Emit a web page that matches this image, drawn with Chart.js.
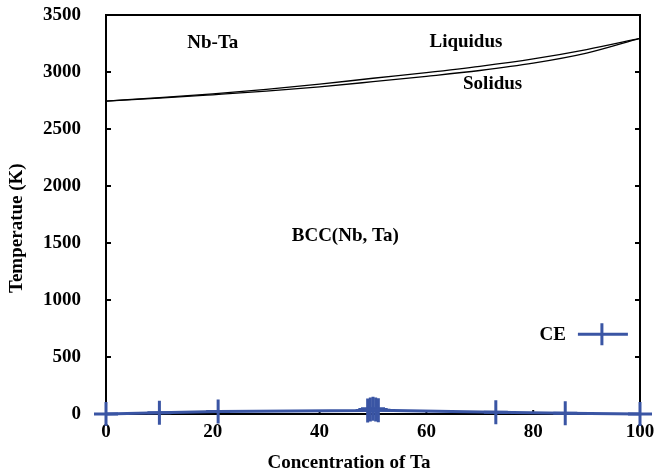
<!DOCTYPE html>
<html lang="en">
<head>
  <meta charset="UTF-8" />
  <title>Nb-Ta phase diagram</title>
  <script src="https://cdn.jsdelivr.net/npm/chart.js"></script>
  <style>
    html, body { margin: 0; padding: 0; background: #fff; }
    #wrap { width: 655px; height: 474px; }
  </style>
</head>
<body>
  <div id="wrap"><canvas id="phaseChart"></canvas></div>

  <script>
    // Composition grid for the liquidus / solidus curves (at.% Ta)
    const compTa = [0, 10, 20, 30, 40, 50, 60, 70, 80, 90, 100];
    const liquidusT = [2745, 2775, 2808, 2847, 2893, 2945, 2995, 3050, 3115, 3197, 3295];
    const solidusT = [2745, 2770, 2800, 2832, 2870, 2915, 2962, 3013, 3077, 3165, 3295];

    // Cluster expansion (CE) points
    const ceTa = [0, 10, 21, 49, 49.5, 50, 50.5, 51, 73, 86, 100];
    const ceT = [0, 10, 22, 30, 40, 45, 40, 32, 15, 6, 0];

    const yTicks = [0, 500, 1000, 1500, 2000, 2500, 3000, 3500];
    const xTicks = [0, 20, 40, 60, 80, 100];

    const serif = "'Liberation Serif', 'Times New Roman', serif";
    const ceBlue = "#3a55a4";

    const toPoints = (xs, ys) => xs.map((x, i) => ({ x: x, y: ys[i] }));

    // keep Chart.js from adding room for overhanging tick labels
    function noOverhang(axis) {
      axis.paddingTop = 0;
      axis.paddingBottom = 0;
      axis.paddingLeft = 0;
      axis.paddingRight = 0;
    }

    // Frame, inward ticks, labels, axis titles and the small legend
    const decorPlugin = {
      id: "decor",
      beforeDatasetsDraw(chart) {
        const { ctx, chartArea: a, scales } = chart;
        ctx.save();
        ctx.strokeStyle = "#000";
        ctx.lineWidth = 2;
        ctx.strokeRect(a.left, a.top, a.right - a.left, a.bottom - a.top);
        yTicks.forEach((v) => {
          const py = scales.y.getPixelForValue(v);
          ctx.beginPath();
          ctx.moveTo(a.left, py); ctx.lineTo(a.left + 5, py);
          ctx.moveTo(a.right, py); ctx.lineTo(a.right - 5, py);
          ctx.stroke();
        });
        xTicks.forEach((v) => {
          const px = scales.x.getPixelForValue(v);
          ctx.beginPath();
          ctx.moveTo(px, a.bottom); ctx.lineTo(px, a.bottom - 4);
          ctx.stroke();
        });
        ctx.restore();
      },
      afterDraw(chart) {
        const { ctx, scales } = chart;
        const at = (x, y) => [scales.x.getPixelForValue(x), scales.y.getPixelForValue(y)];
        ctx.save();
        ctx.fillStyle = "#000";
        ctx.font = "bold 19px " + serif;
        ctx.textAlign = "center";
        ctx.textBaseline = "middle";
        let p = at(20, 3255); ctx.fillText("Nb-Ta", p[0], p[1]);
        p = at(67.4, 3264); ctx.fillText("Liquidus", p[0], p[1]);
        p = at(72.4, 2896); ctx.fillText("Solidus", p[0], p[1]);
        p = at(44.8, 1557); ctx.fillText("BCC(Nb, Ta)", p[0], p[1]);

        // axis titles
        p = at(45.5, 0);
        ctx.fillText("Concentration of Ta", p[0], 463);
        ctx.save();
        ctx.translate(17, scales.y.getPixelForValue(1630));
        ctx.rotate(-Math.PI / 2);
        ctx.fillText("Temperatue (K)", 0, 0);
        ctx.restore();

        // legend entry for CE
        p = at(86.5, 700);
        ctx.textAlign = "right";
        ctx.fillText("CE", p[0] - 2, p[1] + 1);
        ctx.strokeStyle = ceBlue;
        ctx.lineWidth = 3;
        ctx.beginPath();
        ctx.moveTo(p[0] + 10, p[1]); ctx.lineTo(p[0] + 60, p[1]);
        ctx.moveTo(p[0] + 34, p[1] - 11); ctx.lineTo(p[0] + 34, p[1] + 11);
        ctx.stroke();
        ctx.restore();
      }
    };

    new Chart(document.getElementById("phaseChart"), {
      type: "scatter",
      data: {
        datasets: [
          {
            label: "Liquidus",
            data: toPoints(compTa, liquidusT),
            showLine: true,
            borderColor: "#000",
            borderWidth: 1.3,
            pointRadius: 0,
            cubicInterpolationMode: "monotone"
          },
          {
            label: "Solidus",
            data: toPoints(compTa, solidusT),
            showLine: true,
            borderColor: "#000",
            borderWidth: 1.3,
            pointRadius: 0,
            cubicInterpolationMode: "monotone"
          },
          {
            label: "CE",
            data: toPoints(ceTa, ceT),
            showLine: true,
            borderColor: ceBlue,
            backgroundColor: ceBlue,
            borderWidth: 3,
            pointStyle: "cross",
            pointRadius: 12,
            pointBorderWidth: 3,
            clip: false
          }
        ]
      },
      options: {
        responsive: true,
        maintainAspectRatio: false,
        animation: false,
        layout: { padding: { top: 14, right: 10, left: 0, bottom: 0 } },
        plugins: {
          legend: { display: false },
          tooltip: { enabled: false }
        },
        scales: {
          x: {
            type: "linear",
            min: 0,
            max: 100,
            afterBuildTicks: (axis) => { axis.ticks = xTicks.map((v) => ({ value: v })); },
            afterFit: (axis) => { axis.height = 60; noOverhang(axis); },
            grid: { display: false, drawTicks: false },
            border: { display: false },
            ticks: { color: "#000", padding: 7, font: { family: serif, size: 19, weight: "bold" } }
          },
          y: {
            min: 0,
            max: 3500,
            afterBuildTicks: (axis) => { axis.ticks = yTicks.map((v) => ({ value: v })); },
            afterFit: (axis) => { axis.width = 106; noOverhang(axis); },
            grid: { display: false, drawTicks: false },
            border: { display: false },
            ticks: {
              color: "#000",
              padding: 25,
              font: { family: serif, size: 19, weight: "bold" },
              callback: (v) => String(v)
            }
          }
        }
      },
      plugins: [decorPlugin]
    });
  </script>
</body>
</html>
